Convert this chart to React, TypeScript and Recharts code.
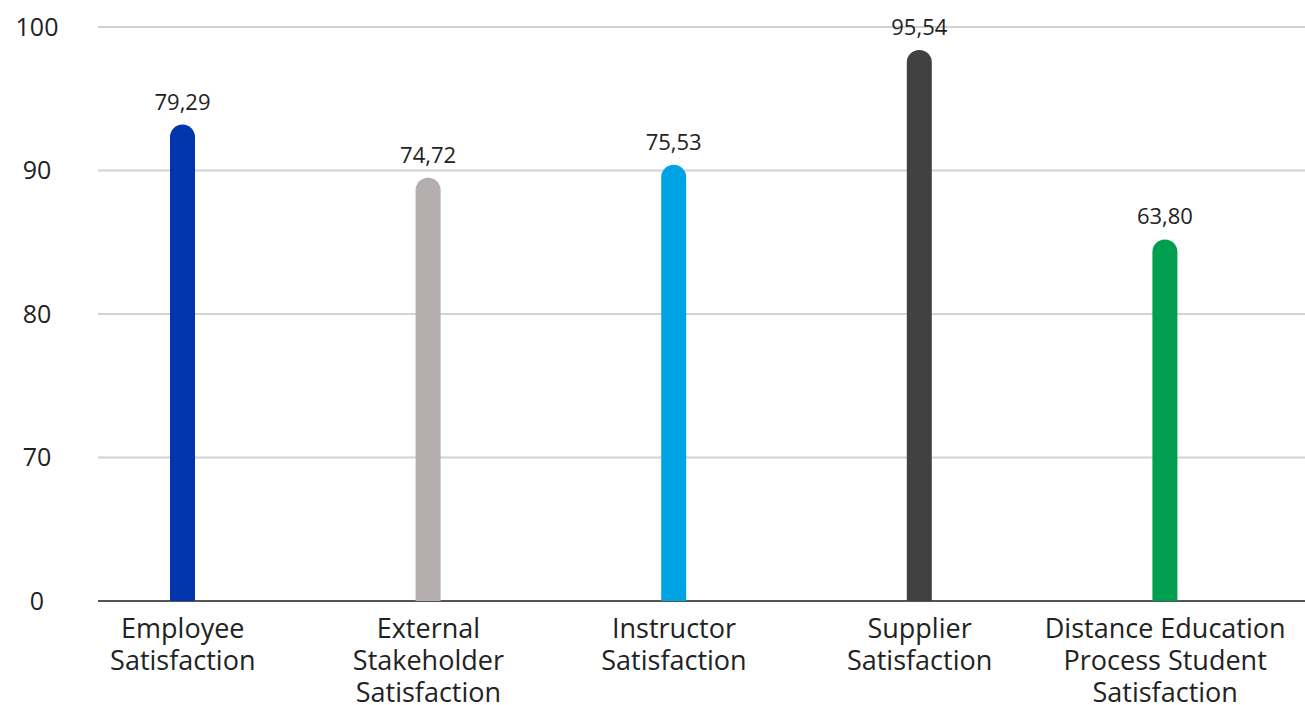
import { Bar, BarChart, CartesianGrid, Cell, LabelList, XAxis, YAxis } from "recharts";

// category names, "\n" marks the line breaks used under the axis
const categories = [
  "Employee\nSatisfaction",
  "External\nStakeholder\nSatisfaction",
  "Instructor\nSatisfaction",
  "Supplier\nSatisfaction",
  "Distance Education\nProcess Student\nSatisfaction",
];

// value printed above each bar
const scores = [79.29, 74.72, 75.53, 95.54, 63.8];

// bar heights as drawn against the (broken) axis
const drawnHeights = [93.2, 89.5, 90.4, 98.4, 85.2];

const barColors = ["#0035ad", "#b4aeae", "#00a3e4", "#414141", "#009e4f"];

// the axis bottom is labelled 0 although it sits where 60 would be
const yTicks = [60, 70, 80, 90, 100];
const yTickLabels = ["0", "70", "80", "90", "100"];

const data = categories.map((name, i) => ({
  name,
  height: drawnHeights[i],
  label: scores[i].toFixed(2).replace(".", ","),
}));

const FONT = "'Open Sans', sans-serif";
const PLOT_BOTTOM = 601;
const GRID_LEFT = 98;
const GRID_RIGHT = 1305;

const YTick = (props: any) => {
  const idx = yTicks.indexOf(props.payload.value);
  return (
    <text x={37} y={props.y} dy="0.35em" textAnchor="middle" fontSize={25} fill="#222" fontFamily={FONT}>
      {yTickLabels[idx]}
    </text>
  );
};

const XTick = (props: any) => {
  const lines = String(props.payload.value).split("\n");
  return (
    <text x={props.x} y={props.y} textAnchor="middle" fontSize={27} fill="#222" fontFamily={FONT}>
      {lines.map((line, i) => (
        <tspan key={i} x={props.x} y={props.y + 37 + i * 32}>
          {line}
        </tspan>
      ))}
    </text>
  );
};

const gridLine = (p: any) => {
  const isBase = Math.abs(p.y1 - PLOT_BOTTOM) < 1.5;
  return (
    <line
      key={p.key}
      x1={GRID_LEFT}
      x2={GRID_RIGHT}
      y1={p.y1}
      y2={p.y2}
      stroke={isBase ? "#555" : "#d2d2d2"}
      strokeWidth={2}
    />
  );
};

export default function App() {
  return (
    <div style={{ position: "absolute", left: 0, top: 0, width: 1305, height: 705, background: "#fff" }}>
      <BarChart width={1305} height={705} data={data} margin={{ top: 27, right: 0, bottom: 0, left: 0 }}>
        <CartesianGrid vertical={false} horizontal={gridLine} />
        <XAxis
          dataKey="name"
          height={104}
          padding={{ left: 0, right: 17 }}
          axisLine={false}
          tickLine={false}
          tickSize={0}
          tickMargin={0}
          interval={0}
          tick={<XTick />}
        />
        <YAxis
          width={60}
          domain={[60, 100]}
          ticks={yTicks}
          allowDataOverflow
          axisLine={false}
          tickLine={false}
          tick={<YTick />}
        />
        <Bar dataKey="height" barSize={25} radius={[12.5, 12.5, 0, 0]} isAnimationActive={false}>
          {data.map((d, i) => (
            <Cell key={d.name} fill={barColors[i]} />
          ))}
          <LabelList dataKey="label" position="top" offset={15} fontSize={22} fill="#222" fontFamily={FONT} />
        </Bar>
      </BarChart>
    </div>
  );
}
